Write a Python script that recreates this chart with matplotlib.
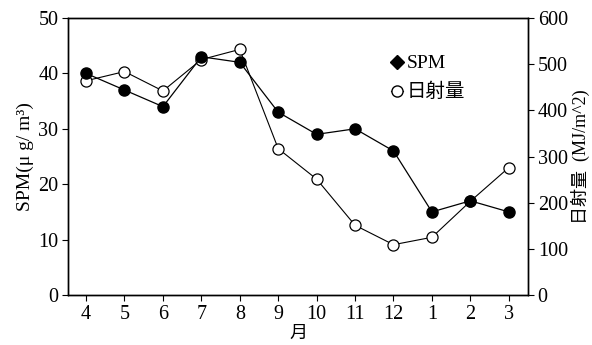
import matplotlib
matplotlib.use("Agg")
import matplotlib.pyplot as plt
from matplotlib.lines import Line2D

plt.rcParams['font.family'] = ['Liberation Serif', 'Noto Sans CJK JP']

months = ['4', '5', '6', '7', '8', '9', '10', '11', '12', '1', '2', '3']
spm = [40, 37, 34, 43, 42, 33, 29, 30, 26, 15, 17, 15]
solar = [464, 484, 442, 510, 532, 317, 251, 151, 109, 125, 203, 276]

fig = plt.figure(figsize=(5.92, 3.45), dpi=100)
ax = fig.add_axes([68 / 592, 50 / 345, 460 / 592, 277 / 345])
ax2 = ax.twinx()

x = list(range(len(months)))

ax2.plot(x, solar, color='black', lw=0.8, marker='o', ms=8,
         mfc='white', mec='black', mew=0.9, zorder=2)
ax.plot(x, spm, color='black', lw=0.9, marker='o', ms=8,
        mfc='black', mec='black', zorder=3)
ax.set_zorder(ax2.get_zorder() + 1)
ax.patch.set_visible(False)

ax.set_xlim(-0.47, 11.5)
ax.set_ylim(0, 50)
ax2.set_ylim(0, 600)
ax.set_xticks(x)
ax.set_xticklabels(months)
ax.set_yticks(range(0, 51, 10))
ax2.set_yticks(range(0, 601, 100))

for a in (ax, ax2):
    a.tick_params(direction='out', length=4, width=0.8, labelsize=14.5, pad=3)
    for s in a.spines.values():
        s.set_linewidth(1.0)

ax.set_xlabel('月', fontsize=13, labelpad=1)
ax.set_ylabel('SPM(μ g/ m³)', fontsize=14, labelpad=3)
ax2.set_ylabel('日射量  (MJ/m^2)', fontsize=13, labelpad=2)

handles = [
    Line2D([], [], color='black', marker='D', ms=7.5, ls='none'),
    Line2D([], [], color='black', lw=0.8, marker='o', ms=8,
           mfc='white', mec='black'),
]
ax.legend(handles, ['SPM', '日射量'], loc='upper left',
          bbox_to_anchor=(0.685, 0.895), frameon=False, fontsize=14,
          handlelength=0.6, handletextpad=0.2, labelspacing=0.55,
          borderaxespad=0)

fig.savefig('out.png', dpi=100)
